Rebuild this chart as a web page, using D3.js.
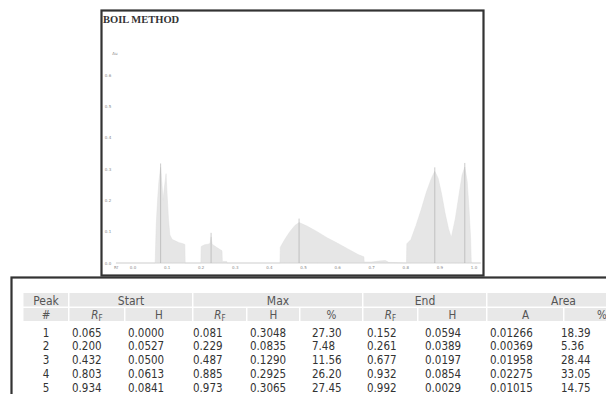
<!DOCTYPE html>
<html>
<head>
<meta charset="utf-8">
<script src="https://cdn.jsdelivr.net/npm/d3@7/dist/d3.min.js"></script>
<style>
  html, body { margin: 0; padding: 0; background: #fff; }
  svg { display: block; }
</style>
</head>
<body>
<svg id="chart" width="606" height="394"></svg>
<script>
// Peak table values
const peakNo = [1, 2, 3, 4, 5];
const startRf = [0.065, 0.200, 0.432, 0.803, 0.934];
const startH = [0.0000, 0.0527, 0.0500, 0.0613, 0.0841];
const maxRf = [0.081, 0.229, 0.487, 0.885, 0.973];
const maxH = [0.3048, 0.0835, 0.1290, 0.2925, 0.3065];
const maxPct = [27.30, 7.48, 11.56, 26.20, 27.45];
const endRf = [0.152, 0.261, 0.677, 0.932, 0.992];
const endH = [0.0594, 0.0389, 0.0197, 0.0854, 0.0029];
const areaA = [0.01266, 0.00369, 0.01958, 0.02275, 0.01015];
const areaPct = [18.39, 5.36, 28.44, 33.05, 14.75];

// Densitogram profile
const profileRf = [-0.05, 0.064, 0.065, 0.068, 0.072, 0.076, 0.081, 0.085, 0.088, 0.092, 0.097, 0.100, 0.104, 0.108, 0.115, 0.125, 0.135, 0.145, 0.152, 0.153,
  0.199, 0.200, 0.210, 0.220, 0.226, 0.229, 0.232, 0.245, 0.255, 0.261, 0.262, 0.275, 0.276,
  0.431, 0.432, 0.445, 0.460, 0.475, 0.487, 0.510, 0.540, 0.570, 0.600, 0.630, 0.660, 0.677, 0.678, 0.700, 0.720, 0.740, 0.750,
  0.802, 0.803, 0.815, 0.830, 0.845, 0.860, 0.875, 0.885, 0.895, 0.905, 0.915, 0.925, 0.932, 0.934, 0.945, 0.955, 0.965, 0.973, 0.980, 0.985, 0.990, 0.992, 0.995, 1.02];
const profileAu = [0, 0, 0, 0.12, 0.20, 0.26, 0.305, 0.25, 0.20, 0.24, 0.285, 0.22, 0.14, 0.09, 0.075, 0.07, 0.065, 0.062, 0.059, 0,
  0, 0.0527, 0.058, 0.060, 0.062, 0.0835, 0.060, 0.050, 0.043, 0.039, 0.005, 0.005, 0,
  0, 0.050, 0.075, 0.100, 0.120, 0.129, 0.118, 0.100, 0.080, 0.063, 0.045, 0.027, 0.0197, 0.003, 0.003, 0.006, 0.008, 0.002,
  0, 0.0613, 0.075, 0.120, 0.170, 0.225, 0.270, 0.2925, 0.270, 0.220, 0.160, 0.110, 0.0854, 0.0841, 0.140, 0.210, 0.280, 0.3065, 0.260, 0.180, 0.080, 0.0029, 0, 0];

const xTicks = [0, 0.1, 0.2, 0.3, 0.4, 0.5, 0.6, 0.7, 0.8, 0.9, 1.0];
const yTicks = [0, 0.1, 0.2, 0.3, 0.4, 0.5, 0.6];

const svg = d3.select('#chart');

// chart frame
svg.append('rect')
  .attr('x', 101.5).attr('y', 10.5)
  .attr('width', 382).attr('height', 265)
  .attr('fill', '#fff').attr('stroke', '#333').attr('stroke-width', 2.2);

svg.append('text')
  .attr('x', 103).attr('y', 23)
  .attr('font-family', 'Liberation Serif')
  .attr('font-weight', 'bold')
  .attr('font-size', 10.5)
  .attr('fill', '#333')
  .text('BOIL METHOD');

const x = d3.scaleLinear().domain([0, 1]).range([133, 474]);
const y = d3.scaleLinear().domain([0, 0.6]).range([263, 75]);

const profile = profileRf.map((r, i) => ({ r, a: profileAu[i] }));

const area = d3.area()
  .x(d => x(d.r))
  .y0(y(0))
  .y1(d => y(d.a));

svg.append('path')
  .datum(profile)
  .attr('d', area)
  .attr('fill', '#e6e6e6')
  .attr('stroke', '#dedede')
  .attr('stroke-width', 0.5);

// baseline
svg.append('line')
  .attr('x1', x(-0.05)).attr('x2', x(1.02))
  .attr('y1', y(0)).attr('y2', y(0))
  .attr('stroke', '#cfcfcf').attr('stroke-width', 0.6);

// peak max markers
svg.append('g').selectAll('line')
  .data(maxRf)
  .join('line')
  .attr('x1', d => x(d)).attr('x2', d => x(d))
  .attr('y1', y(0))
  .attr('y2', (d, i) => y(maxH[i]) - 4)
  .attr('stroke', '#a8a8a8')
  .attr('stroke-width', 0.6);

// axes (tiny grey labels)
const tickFont = { family: 'DejaVu Sans', size: 4 };
svg.append('g').selectAll('text')
  .data(yTicks)
  .join('text')
  .attr('x', 108).attr('y', d => y(d) + 1.5)
  .attr('text-anchor', 'middle')
  .attr('font-family', tickFont.family).attr('font-size', tickFont.size)
  .attr('fill', '#888')
  .text(d => d3.format('.1f')(d));

svg.append('text')
  .attr('x', 115).attr('y', 55)
  .attr('text-anchor', 'middle')
  .attr('font-family', tickFont.family).attr('font-size', tickFont.size)
  .attr('fill', '#888')
  .text('Au');

svg.append('g').selectAll('text')
  .data(xTicks)
  .join('text')
  .attr('x', d => x(d)).attr('y', 268.5)
  .attr('text-anchor', 'middle')
  .attr('font-family', tickFont.family).attr('font-size', tickFont.size)
  .attr('fill', '#888')
  .text(d => d3.format('.1f')(d));

svg.append('text')
  .attr('x', 116).attr('y', 268.5)
  .attr('text-anchor', 'middle')
  .attr('font-family', tickFont.family).attr('font-size', tickFont.size)
  .attr('fill', '#888')
  .text('Rf');

// table frame
svg.append('rect')
  .attr('x', 11.5).attr('y', 277.5)
  .attr('width', 620).attr('height', 140)
  .attr('fill', '#fff').attr('stroke', '#333').attr('stroke-width', 2.2);

// column edges
const colEdges = [23, 69, 125, 193, 247, 300, 363, 418, 487, 564, 640];
const groups = [
  { label: 'Peak', from: 0, to: 1 },
  { label: 'Start', from: 1, to: 3 },
  { label: 'Max', from: 3, to: 6 },
  { label: 'End', from: 6, to: 8 },
  { label: 'Area', from: 8, to: 10 }
];
const subHeads = ['#', 'R', 'H', 'R', 'H', '%', 'R', 'H', 'A', '%'];

const head = svg.append('g');
head.selectAll('rect.g')
  .data(groups)
  .join('rect')
  .attr('class', 'g')
  .attr('x', d => colEdges[d.from] + 0.5)
  .attr('y', 293)
  .attr('width', d => colEdges[d.to] - colEdges[d.from] - 1.5)
  .attr('height', 13.5)
  .attr('fill', '#e8e8e8');
head.selectAll('rect.s')
  .data(subHeads)
  .join('rect')
  .attr('class', 's')
  .attr('x', (d, i) => colEdges[i] + 0.5)
  .attr('y', 308)
  .attr('width', (d, i) => colEdges[i + 1] - colEdges[i] - 1.5)
  .attr('height', 13)
  .attr('fill', '#e8e8e8');

const tfont = 'DejaVu Sans Condensed, DejaVu Sans';
head.selectAll('text.g')
  .data(groups)
  .join('text')
  .attr('class', 'g')
  .attr('x', d => (colEdges[d.from] + colEdges[d.to]) / 2)
  .attr('y', 304.5)
  .attr('text-anchor', 'middle')
  .attr('font-family', tfont).attr('font-size', 12)
  .attr('fill', '#555')
  .text(d => d.label);

const sub = head.selectAll('text.s')
  .data(subHeads)
  .join('text')
  .attr('class', 's')
  .attr('x', (d, i) => (colEdges[i] + colEdges[i + 1]) / 2)
  .attr('y', 318.5)
  .attr('text-anchor', 'middle')
  .attr('font-family', tfont).attr('font-size', 11.5)
  .attr('fill', '#555')
  .attr('font-style', d => (d === 'R' || d === '#') ? 'italic' : 'normal');
sub.append('tspan').text(d => d);
sub.filter(d => d === 'R').append('tspan')
  .attr('font-size', 8).attr('font-style', 'normal').attr('dy', 2)
  .text('F');

// table body
const fmt = [
  d => String(d),
  d => d.toFixed(3), d => d.toFixed(4),
  d => d.toFixed(3), d => d.toFixed(4), d => d.toFixed(2),
  d => d.toFixed(3), d => d.toFixed(4),
  d => d.toFixed(5), d => d.toFixed(2)
];
const cols = [peakNo, startRf, startH, maxRf, maxH, maxPct, endRf, endH, areaA, areaPct];
const textLeft = [46, 72, 128, 193, 250, 312, 367, 425, 490, 561];

const rows = peakNo.map((p, r) => cols.map((c, ci) => ({ ci, v: fmt[ci](c[r]) })));
const rowY = d3.scaleLinear().domain([0, 4]).range([336.5, 392]);

svg.append('g').selectAll('g')
  .data(rows)
  .join('g')
  .attr('transform', (d, i) => `translate(0,${rowY(i)})`)
  .selectAll('text')
  .data(d => d)
  .join('text')
  .attr('x', d => textLeft[d.ci])
  .attr('text-anchor', d => d.ci === 0 ? 'middle' : 'start')
  .attr('font-family', tfont).attr('font-size', 11.5)
  .attr('fill', '#333')
  .text(d => d.v);
</script>
</body>
</html>
